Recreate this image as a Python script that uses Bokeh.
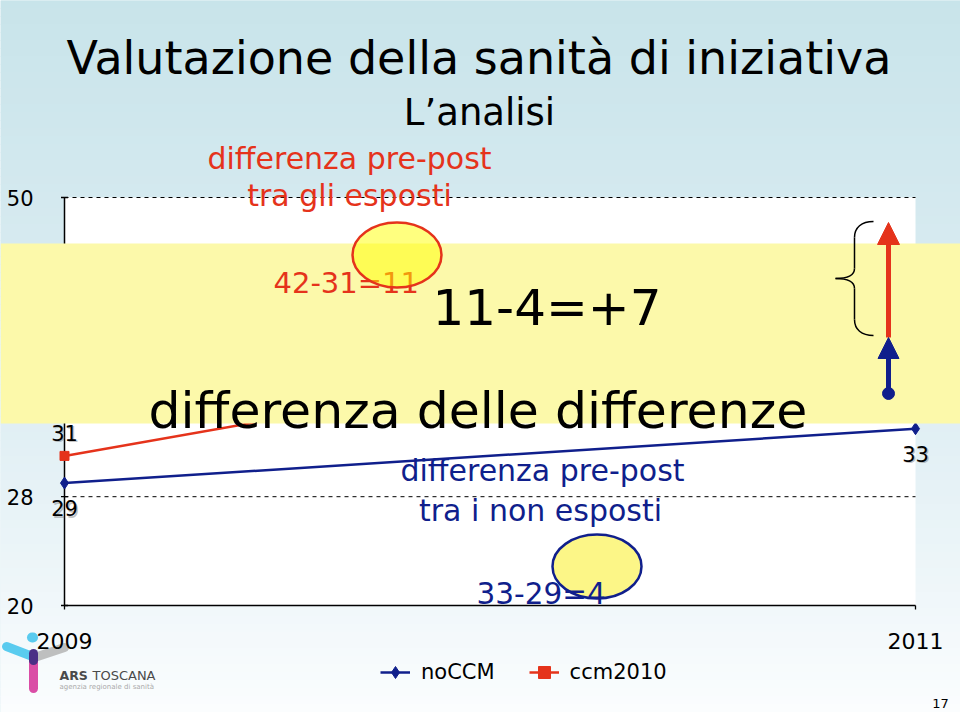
import math
from bokeh.plotting import figure
from bokeh.models import (Range1d, Label, LabelSet, ColumnDataSource,
                          BoxAnnotation, Arrow, NormalHead, Legend, LegendItem)
from bokeh.core.properties import value
from bokeh.embed import file_html
from bokeh.resources import INLINE

# ---------------- data ----------------
years = [2009, 2011]
year_labels = ["2009", "2011"]
noccm = [29, 33]
ccm2010 = [31, 42]
series_names = ["noCCM", "ccm2010"]
y_lo, y_hi = 20, 50
y_ticks = [20, 28, 50]
grid_ticks = [28, 50]

# ---------------- layout (canvas pixels) ----------------
W, H = 960, 712
L, R, T, B = 64, 915, 197, 605          # plot area inside the slide
FONT = "DejaVu Sans"
NAVY = "#101f8c"
RED = "#e5331b"
YELLOW_BOX = "#fcf9aa"

xs = (years[-1] - years[0]) / (R - L)
ys = (y_hi - y_lo) / (B - T)

p = figure(width=W, height=H, output_backend="svg", toolbar_location=None,
           x_range=Range1d(years[0] - L * xs, years[-1] + (W - R) * xs),
           y_range=Range1d(y_lo - (H - B) * ys, y_hi + T * ys),
           x_axis_location=None, y_axis_location=None,
           min_border=0, background_fill_color="#dcedf2",
           border_fill_color="#dcedf2", outline_line_color=None)
p.grid.visible = False
p.extra_x_ranges = {"px": Range1d(0, W)}
p.extra_y_ranges = {"py": Range1d(0, H)}


def Y(y):
    return H - y


# ---------------- slide background gradient ----------------
stops = [(0, (200, 228, 234)), (200, (212, 233, 239)), (420, (224, 239, 244)),
         (580, (238, 246, 249)), (712, (251, 253, 254))]


def grad(y):
    for (y0, c0), (y1, c1) in zip(stops[:-1], stops[1:]):
        if y0 <= y <= y1:
            t = (y - y0) / (y1 - y0)
            c = [round(a + (b - a) * t) for a, b in zip(c0, c1)]
            return "#%02x%02x%02x" % tuple(c)
    return "#ffffff"


bounds = list(range(0, H, 8)) + [H]
for y0, y1 in zip(bounds[:-1], bounds[1:]):
    p.add_layout(BoxAnnotation(left=0, right=W, top=Y(y0) + 0.5, bottom=Y(y1) - 0.5,
                               x_range_name="px", y_range_name="py",
                               fill_color=grad((y0 + y1) / 2), fill_alpha=1,
                               line_color=None, level="image"))

# white plot area
p.add_layout(BoxAnnotation(left=years[0], right=years[-1], bottom=y_lo, top=y_hi,
                           fill_color="white", fill_alpha=1, line_color=None,
                           level="image"))

# ---------------- logo (drawn under the tick labels) ----------------
logo_bars = [((6, 646), (32, 656), "#3ec3ec", 9, 0.85),
             ((34, 657), (64, 647), "#b4b4b4", 9, 0.85),
             ((33, 657), (33, 688), "#d63a9c", 9, 0.9),
             ((33, 653), (33, 660), "#4b2f86", 9, 1.0),
             ((31.5, 637), (32.5, 637), "#3ec3ec", 10, 0.85)]
for (xa, ya), (xb, yb), c, lw, al in logo_bars:
    p.add_layout(Arrow(end=None, x_start=xa, y_start=Y(ya), x_end=xb, y_end=Y(yb),
                       line_color=c, line_width=lw, line_alpha=al, line_cap="round",
                       x_range_name="px", y_range_name="py", level="underlay"))

# ---------------- grid & axes ----------------
p.segment(x0=[years[0]] * len(grid_ticks), y0=grid_ticks,
          x1=[years[-1]] * len(grid_ticks), y1=grid_ticks,
          line_color="black", line_width=1, line_dash="4 4")
p.segment(x0=[years[0], years[0]], y0=[y_lo, y_lo], x1=[years[0], years[-1]],
          y1=[y_hi, y_lo], line_color="black", line_width=1.5)
p.scatter(x=[years[0]] * len(y_ticks), y=y_ticks, marker="dash", size=7,
          line_color="black", line_width=1.3)
p.ray(x=years, y=[y_lo] * len(years), length=4, length_units="screen",
      angle=-math.pi / 2, line_color="black", line_width=1.3)

ytick_src = ColumnDataSource(dict(x=[years[0]] * len(y_ticks), y=y_ticks,
                                  t=[str(v) for v in y_ticks]))
p.add_layout(LabelSet(x="x", y="y", text="t", source=ytick_src, x_offset=-31,
                      text_align="right", text_baseline="middle",
                      text_font=value(FONT), text_font_size=value("21px"),
                      text_color="black"))
xtick_src = ColumnDataSource(dict(x=years, y=[y_lo] * len(years), t=year_labels))
p.add_layout(LabelSet(x="x", y="y", text="t", source=xtick_src, y_offset=-43,
                      text_align="center", text_baseline="alphabetic",
                      text_font=value(FONT), text_font_size=value("22px"),
                      text_color="black"))

# blue highlight ellipse (below the text it marks)
p.ellipse(x=[596.5], y=[Y(566)], width=[89], height=[64], x_range_name="px",
          y_range_name="py", fill_color="#fcf687", fill_alpha=1,
          line_color=NAVY, line_width=2.5)

# ---------------- data series ----------------
src_n = ColumnDataSource(dict(x=years, y=noccm, t=[str(v) for v in noccm]))
src_c = ColumnDataSource(dict(x=years, y=ccm2010, t=[str(v) for v in ccm2010]))
rn_line = p.line("x", "y", source=src_n, line_color=NAVY, line_width=2.5)
rn_pts = p.scatter("x", "y", source=src_n, marker="diamond", size=12,
                   fill_color=NAVY, line_color=NAVY)
rc_line = p.line("x", "y", source=src_c, line_color=RED, line_width=2.5)
rc_pts = p.scatter("x", "y", source=src_c, marker="square", size=9,
                   fill_color=RED, line_color=RED)

for src, off in [(src_n, -33), (src_c, 15)]:
    p.add_layout(LabelSet(x="x", y="y", text="t", source=src, x_offset=1.5,
                          y_offset=off - 1.5, text_align="center",
                          text_font=value(FONT), text_font_size=value("21px"),
                          text_color="#777777", text_alpha=0.45))
    p.add_layout(LabelSet(x="x", y="y", text="t", source=src, y_offset=off,
                          text_align="center", text_font=value(FONT),
                          text_font_size=value("21px"), text_color="black"))

# ---------------- yellow band ----------------
p.add_layout(BoxAnnotation(left=0, right=W, top=Y(243), bottom=Y(423),
                           x_range_name="px", y_range_name="py",
                           fill_color=YELLOW_BOX, fill_alpha=1, line_color=None,
                           level="annotation"))

# ---------------- legend ----------------
legend = Legend(items=[LegendItem(label=series_names[0], renderers=[rn_line, rn_pts]),
                       LegendItem(label=series_names[1], renderers=[rc_line, rc_pts])],
                orientation="horizontal", location=(380, H - 687),
                glyph_width=30, glyph_height=30, label_standoff=11, spacing=34,
                padding=0, margin=0, border_line_color=None,
                background_fill_alpha=0, label_text_font=FONT,
                label_text_font_size="21px", label_text_color="black")
p.add_layout(legend)


def lab(text, x, y, size, color="black", align="left", style="normal"):
    p.add_layout(Label(x=x, y=Y(y), x_range_name="px", y_range_name="py", text=text,
                       text_font=FONT, text_font_size=f"{size}px", text_color=color,
                       text_align=align, text_baseline="alphabetic",
                       text_font_style=style))


lab("Valutazione della sanità di iniziativa", 66, 57, 46)
lab("L\u2019analisi", 479, 112, 37, align="center")
lab("differenza pre-post", 349, 158, 30, RED, "center")
lab("tra gli esposti", 349, 195, 30, RED, "center")
lab("42-31=11", 273, 282, 29, RED)
lab("11-4=+7", 432, 307, 50)
lab("differenza delle differenze", 148, 410, 50.5)
lab("differenza pre-post", 542, 470, 30, NAVY, "center")
lab("tra i non esposti", 540, 510, 30, NAVY, "center")
lab("33-29=4", 476, 593, 29.5, NAVY)
lab("17", 940, 703, 13, align="center")
lab("ARS", 59, 675, 12.5, "#4a4a4a", style="bold")
lab("TOSCANA", 92, 675, 13, "#4a4a4a")
lab("agenzia regionale di sanità", 59, 686, 7, "#aaaaaa")

# red highlight ellipse (semi-transparent, over its text)
p.ellipse(x=[396.5], y=[Y(254.5)], width=[89], height=[65], x_range_name="px",
          y_range_name="py", fill_color="#ffff00", fill_alpha=0.5,
          line_color=RED, line_width=2.5, level="overlay")

# ---------------- arrows on the right ----------------
p.add_layout(Arrow(end=NormalHead(size=22, fill_color=RED, line_color=RED),
                   x_start=888, y_start=Y(337), x_end=888, y_end=Y(222),
                   line_color=RED, line_width=5, x_range_name="px", y_range_name="py"))
p.add_layout(Arrow(end=NormalHead(size=21, fill_color=NAVY, line_color=NAVY),
                   x_start=888, y_start=Y(393), x_end=888, y_end=Y(337),
                   line_color=NAVY, line_width=5, x_range_name="px", y_range_name="py"))
p.scatter(x=[888], y=[Y(393)], size=12, marker="circle", fill_color=NAVY,
          line_color=NAVY, x_range_name="px", y_range_name="py", level="overlay")

# ---------------- brace ----------------
p.bezier(x0=[873, 854, 835, 854], y0=[Y(221), Y(268), Y(278), Y(319)],
         x1=[854, 835, 854, 873], y1=[Y(237), Y(278), Y(288), Y(335)],
         cx0=[861, 854, 846, 854], cy0=[Y(221), Y(275), Y(278), Y(329)],
         cx1=[854, 846, 854, 861], cy1=[Y(227), Y(278), Y(281), Y(335)],
         line_color="black", line_width=1.5, x_range_name="px", y_range_name="py",
         level="overlay")
p.segment(x0=[854, 854], y0=[Y(237), Y(288)], x1=[854, 854], y1=[Y(268), Y(319)],
          line_color="black", line_width=1.5, x_range_name="px", y_range_name="py",
          level="overlay")

open("out.html", "w").write(file_html(p, INLINE))
